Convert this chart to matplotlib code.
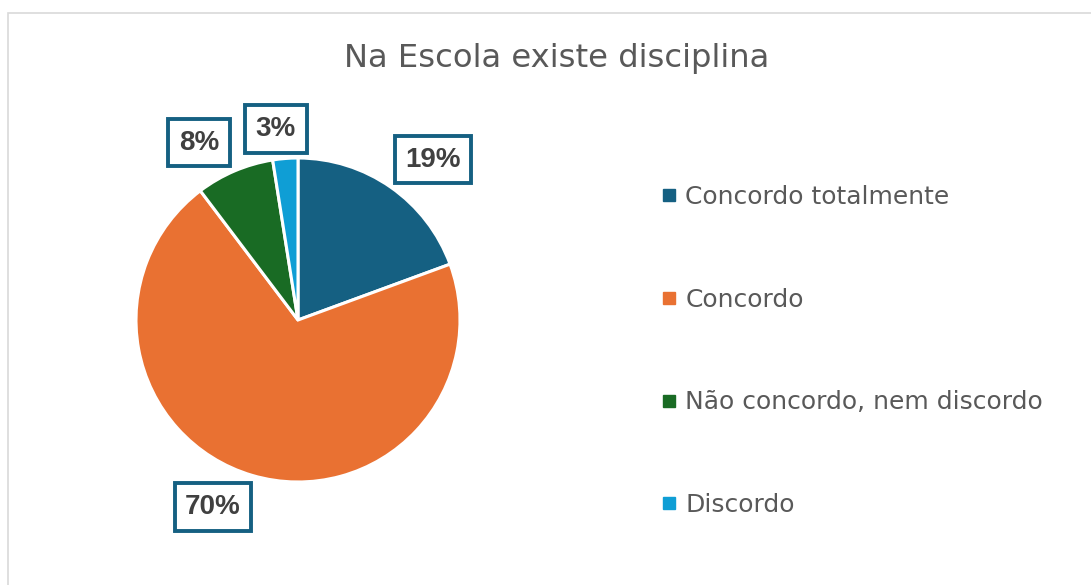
import matplotlib.pyplot as plt
from matplotlib.lines import Line2D
from matplotlib.patches import Rectangle

# dados do gráfico
categorias = ['Concordo totalmente', 'Concordo', 'Não concordo, nem discordo', 'Discordo']
percentuais = [19.4, 70.3, 7.8, 2.5]
rotulos = ['19%', '70%', '8%', '3%']
cores = ['#156082', '#E97132', '#196B24', '#0F9ED5']

W, H = 1091, 585
fig = plt.figure(figsize=(W / 100, H / 100), dpi=100)
fig.patch.set_facecolor('white')

# moldura da área do gráfico
fig.patches.append(Rectangle((8 / W, -0.1), 1.2, 1 - 13 / H + 0.1, transform=fig.transFigure,
                             fill=False, edgecolor='#d9d9d9', linewidth=1.2))

# eixo da pizza: centro (298, 320) px, raio 162 px
cx, cy, r = 298, 320, 162
ax = fig.add_axes([(cx - r) / W, (H - cy - r) / H, 2 * r / W, 2 * r / H])
wedges, _ = ax.pie(percentuais, colors=cores, startangle=90, counterclock=False, radius=1,
                   wedgeprops=dict(edgecolor='white', linewidth=2.2))
ax.set_xlim(-1, 1)
ax.set_ylim(-1, 1)
ax.set_aspect('equal')
ax.axis('off')

# posição dos rótulos (em unidades do raio)
pos_rotulos = [(0.833, 0.988), (-0.525, -1.154), (-0.611, 1.093), (-0.136, 1.179)]
for txt, (x, y) in zip(rotulos, pos_rotulos):
    ax.text(x, y, txt, ha='center', va='center', fontsize=20, fontweight='bold',
            family='Liberation Sans', color='#404040', clip_on=False,
            bbox=dict(boxstyle='square,pad=0.38', facecolor='white',
                      edgecolor='#156082', linewidth=2.8))

# título
fig.text(556.5 / W, 1 - 58 / H, 'Na Escola existe disciplina', ha='center', va='center',
         fontsize=23.2, color='#595959')

# legenda
handles = [Line2D([], [], marker='s', linestyle='none', markersize=8, color=c) for c in cores]
leg = fig.legend(handles, categorias, loc='center left', bbox_to_anchor=(662.75 / W, 1 - 351 / H),
                 frameon=False, fontsize=18, handlelength=0.5, handletextpad=0.4,
                 labelspacing=3.15, borderpad=0, borderaxespad=0)
for t in leg.get_texts():
    t.set_color('#595959')

fig.savefig('out.png', dpi=100, facecolor='white')
